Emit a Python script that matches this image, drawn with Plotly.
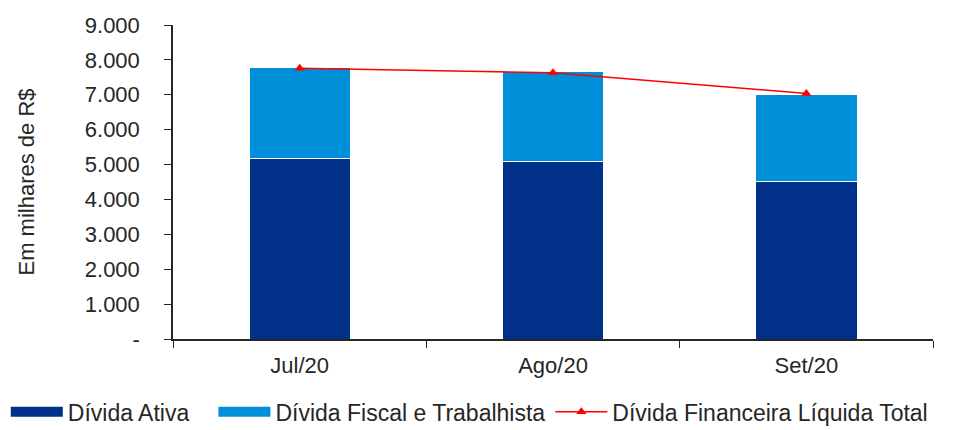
import plotly.graph_objects as go

categories = ["Jul/20", "Ago/20", "Set/20"]
divida_ativa = [5160, 5080, 4520]
divida_fiscal = [2620, 2580, 2500]
divida_total = [7760, 7630, 7040]
y_tickvals = [0, 1000, 2000, 3000, 4000, 5000, 6000, 7000, 8000, 9000]
y_ticktext = ["-", "1.000", "2.000", "3.000", "4.000", "5.000", "6.000", "7.000", "8.000", "9.000"]

font_family = "Liberation Sans, Arial, sans-serif"
c_ativa = "#003087"
c_fiscal = "#0090DA"
c_total = "#FF0000"

fig = go.Figure()
fig.add_trace(go.Bar(
    x=categories, y=divida_ativa, name="Dívida Ativa",
    marker=dict(color=c_ativa, line=dict(color="white", width=1)),
    showlegend=False,
))
fig.add_trace(go.Bar(
    x=categories, y=divida_fiscal, name="Dívida Fiscal e Trabalhista",
    marker=dict(color=c_fiscal, line=dict(color="white", width=1)),
    showlegend=False,
))
fig.add_trace(go.Scatter(
    x=categories, y=divida_total, name="Dívida Financeira Líquida Total",
    mode="lines+markers",
    line=dict(color=c_total, width=1.5),
    marker=dict(symbol="triangle-up", size=9, color=c_total),
    showlegend=False,
))
# legend entries (wide swatches like the original)
fig.add_trace(go.Scatter(x=[None], y=[None], mode="lines", name="Dívida Ativa\u00a0\u00a0\u00a0",
                         line=dict(color=c_ativa, width=10)))
fig.add_trace(go.Scatter(x=[None], y=[None], mode="lines", name="Dívida Fiscal e Trabalhista",
                         line=dict(color=c_fiscal, width=10)))
fig.add_trace(go.Scatter(x=[None], y=[None], mode="lines+markers",
                         name="Dívida Financeira Líquida Total",
                         line=dict(color=c_total, width=1.5),
                         marker=dict(symbol="triangle-up", size=9, color=c_total)))

fig.update_layout(
    barmode="stack",
    bargap=0.6,
    width=955, height=430,
    margin=dict(l=173, r=22, t=25, b=91, autoexpand=False),
    paper_bgcolor="white", plot_bgcolor="white",
    font=dict(family=font_family, size=22, color="#262626"),
    showlegend=True,
    legend=dict(
        orientation="h", xref="paper", x=-0.22, xanchor="left",
        yref="paper", y=-0.232, yanchor="middle",
        font=dict(size=23, color="#262626"), itemwidth=52,
        traceorder="normal",
    ),
)
fig.update_xaxes(
    showline=True, linecolor="#262626", linewidth=1.5,
    ticks="outside", tickson="boundaries", ticklen=7, tickcolor="#262626",
    showgrid=False, ticklabelstandoff=6,
)
fig.update_yaxes(
    range=[0, 9000], tickvals=y_tickvals, ticktext=y_ticktext,
    showline=True, linecolor="#262626", linewidth=1.5,
    ticks="outside", ticklen=7, tickcolor="#262626",
    showgrid=False, zeroline=False, ticklabelstandoff=20,
    title=dict(text="Em milhares de R$", font=dict(size=22), standoff=44),
)

fig.write_html("out.html")
